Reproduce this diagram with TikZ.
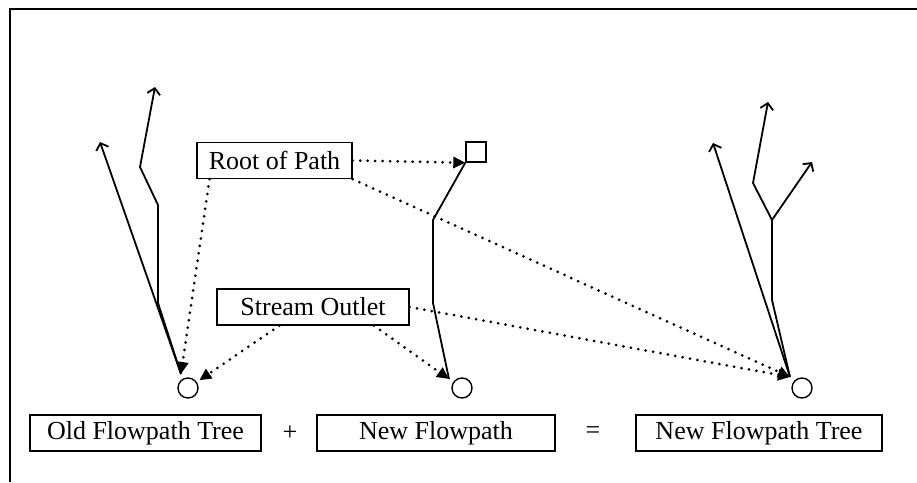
\documentclass[tikz,border=0pt]{standalone}
\usepackage{fontspec}
\setmainfont{Liberation Serif}
\usetikzlibrary{arrows.meta,positioning}

\begin{document}
\begin{tikzpicture}[x=1pt,y=-1pt,>={Straight Barb[length=6pt,width=13pt]},line width=1.8pt,font=\fontsize{26}{30}\selectfont]
\tikzstyle{caption}=[draw=black,line width=1.3pt,fill=white,
  minimum height=36pt,inner sep=0pt
]
\tikzstyle{outlet}=[circle,draw=black,line width=1.4pt,
  minimum size=20pt,inner sep=0pt
]
\tikzstyle{pointer}=[line width=3pt,line cap=round,
  dash pattern=on 0pt off 7.5pt,
  -{Triangle[length=12pt,width=11pt]}
]

\useasboundingbox (0,0) rectangle (917,482);
\draw[line width=1.8pt] (10,482) -- (10,9) -- (917,9);

% labels
\node[caption,minimum width=155pt] (root)   at (274.5,160.5) {Root of Path};
\node[caption,minimum width=192pt] (stream) at (313,307)     {Stream Outlet};
\node[caption,minimum width=231pt] (old)    at (145.5,433)   {Old Flowpath Tree};
\node[caption,minimum width=238pt] (new)    at (436,433)     {New Flowpath};
\node[caption,minimum width=246pt] (tree)   at (759,433)     {New Flowpath Tree};
\node (plus)   at (290,433) {+};
\node (equals) at (593,433) {=};

% outlets and root
\node[outlet] (o1) at (188,388) {};
\node[outlet] (o2) at (462,388) {};
\node[outlet] (o3) at (802,388) {};
\node[draw=black,line width=1.4pt,minimum size=20pt,inner sep=0pt] (sq) at (476,152) {};

% old tree
\coordinate (a1) at (181,374);
\coordinate (a2) at (158,303);
\coordinate (a3) at (158,205);
\coordinate (a4) at (140,167);
\coordinate (a5) at (155,87);
\coordinate (a6) at (100,142);
\draw[->] (a1) -- (a6);
\draw[->] (a1) -- (a2) -- (a3) -- (a4) -- (a5);

% new flowpath
\coordinate (b1) at (449,379);
\coordinate (b2) at (433,303);
\coordinate (b3) at (433,220);
\draw (sq.south west) -- (b3) -- (b2) -- (b1);

% new tree
\coordinate (c1) at (790,377);
\coordinate (c2) at (772,300);
\coordinate (c3) at (772,220);
\coordinate (c4) at (753,183);
\coordinate (c5) at (768,102);
\coordinate (c6) at (812,162);
\coordinate (c7) at (713,143);
\draw[->] (c1) -- (c7);
\draw[->] (c1) -- (c2) -- (c3) -- (c4) -- (c5);
\draw[->] (c3) -- (c6);

% pointers
\draw[pointer] (root.east) -- (sq.south west);
\draw[pointer] (root.196) -- (a1);
\draw[pointer] (root.south east) -- (c1);
\draw[pointer,shorten >=3pt] (stream.209) -- (o1);
\draw[pointer] (stream.343) -- (b1);
\draw[pointer] (stream.east) -- (c1);
\end{tikzpicture}
\end{document}
